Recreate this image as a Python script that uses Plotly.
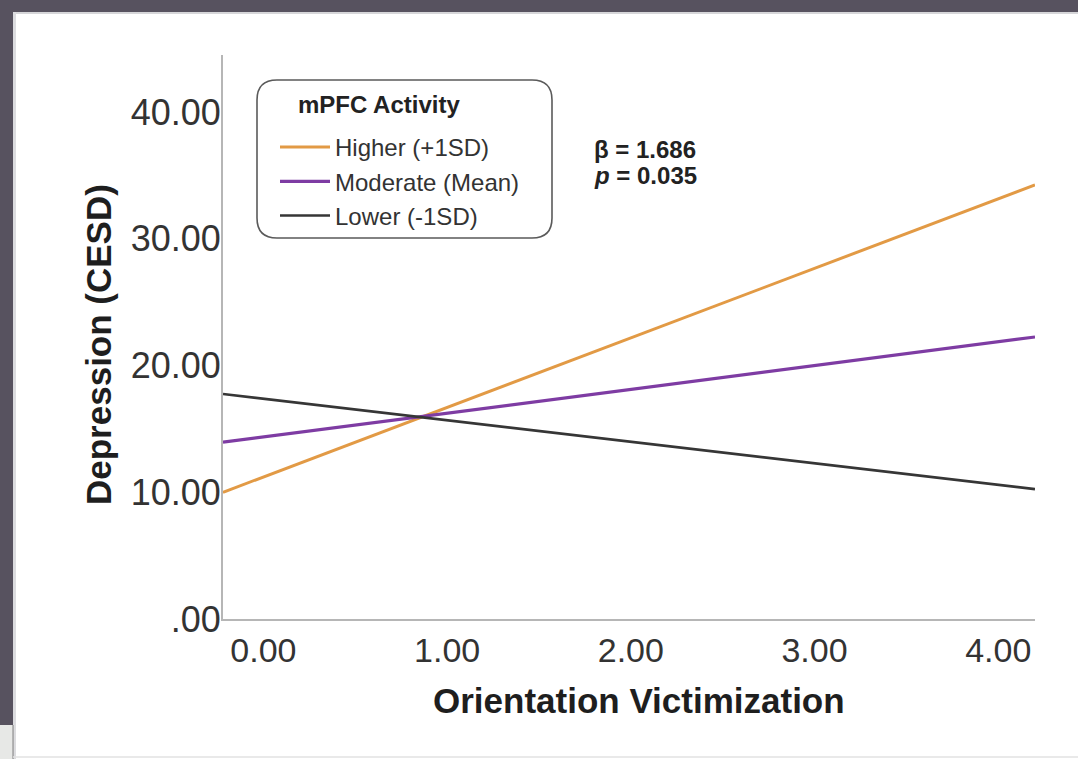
import plotly.graph_objects as go

# Simple-slopes data: depression predicted at the two ends of the victimization range
victimization = [-0.22, 4.2]
depression_higher = [10.0, 34.25]
depression_moderate = [13.95, 22.25]
depression_lower = [17.75, 10.25]
series_names = ["Higher (+1SD)", "Moderate (Mean)", "Lower (-1SD)"]
series_colors = ["#E29A45", "#7E3CA3", "#363636"]

x_ticks = [0, 1, 2, 3, 4]
x_tick_labels = ["0.00", "1.00", "2.00", "3.00", "4.00"]
y_ticks = [0, 10, 20, 30, 40]
y_tick_labels = [".00", "10.00", "20.00", "30.00", "40.00"]

legend_title = "<b>mPFC Activity</b>"
beta_text = "<b>β = 1.686</b>"
p_text = "<b><i>p</i> = 0.035</b>"

W, H = 1078, 759
L, R, T, B = 223, 43, 55, 140
PW, PH = W - L - R, H - T - B
FONT = "Liberation Sans, Arial, Helvetica, sans-serif"


def px(x):
    return (x - L) / PW


def py(y):
    return (H - B - y) / PH


fig = go.Figure()
for name, ys, color, width in zip(
    series_names,
    [depression_higher, depression_moderate, depression_lower],
    series_colors,
    [3, 3.2, 2.6],
):
    fig.add_trace(
        go.Scatter(
            x=victimization,
            y=ys,
            mode="lines",
            name=name,
            line=dict(color=color, width=width),
        )
    )


def rounded_rect(x0, y0, x1, y1, r):
    rx, ry = r / PW, r / PH
    a, b, c, d = px(x0), px(x1), py(y0), py(y1)
    return (
        f"M {a + rx},{c} L {b - rx},{c} Q {b},{c} {b},{c - ry} "
        f"L {b},{d + ry} Q {b},{d} {b - rx},{d} "
        f"L {a + rx},{d} Q {a},{d} {a},{d + ry} "
        f"L {a},{c - ry} Q {a},{c} {a + rx},{c} Z"
    )


shapes = [
    # legend frame
    dict(type="path", xref="paper", yref="paper", path=rounded_rect(257, 80, 552, 238, 20),
         line=dict(color="#5a5a5a", width=1.6), fillcolor="rgba(0,0,0,0)", layer="above"),
    # window chrome around the slide
    dict(type="rect", xref="paper", yref="paper", x0=px(0), x1=px(W), y0=py(0), y1=py(12),
         fillcolor="#57525f", line=dict(width=0), layer="above"),
    dict(type="rect", xref="paper", yref="paper", x0=px(0), x1=px(W), y0=py(12), y1=py(14),
         fillcolor="#d6d6d9", line=dict(width=0), layer="above"),
    dict(type="rect", xref="paper", yref="paper", x0=px(0), x1=px(13), y0=py(0), y1=py(725),
         fillcolor="#57525f", line=dict(width=0), layer="above"),
    dict(type="rect", xref="paper", yref="paper", x0=px(13), x1=px(16), y0=py(12), y1=py(759),
         fillcolor="#dcdcdf", line=dict(width=0), layer="above"),
    dict(type="rect", xref="paper", yref="paper", x0=px(0), x1=px(12), y0=py(725), y1=py(759),
         fillcolor="#e7e8e6", line=dict(width=0), layer="above"),
    dict(type="line", xref="paper", yref="paper", x0=px(13), x1=px(13), y0=py(725), y1=py(759),
         line=dict(color="#9b9b9b", width=1.5), layer="above"),
    dict(type="line", xref="paper", yref="paper", x0=px(13), x1=px(W), y0=py(757), y1=py(757),
         line=dict(color="#e2e2e2", width=1.5), layer="above"),
]

annotations = [
    dict(text=legend_title, xref="paper", yref="paper", x=px(296), y=py(105), xanchor="left",
         yanchor="middle", showarrow=False, font=dict(family=FONT, size=24, color="#222")),
    dict(text=beta_text, xref="paper", yref="paper", x=px(592), y=py(149), xanchor="left",
         yanchor="middle", showarrow=False, font=dict(family=FONT, size=24, color="#222")),
    dict(text=p_text, xref="paper", yref="paper", x=px(592), y=py(176), xanchor="left",
         yanchor="middle", showarrow=False, font=dict(family=FONT, size=24, color="#222")),
    dict(text="<b>Orientation Victimization</b>", xref="paper", yref="paper", x=px(639), y=py(700),
         xanchor="center", yanchor="middle", showarrow=False,
         font=dict(family=FONT, size=35, color="#1e1e1e")),
    dict(text="<b>Depression (CESD)</b>", xref="paper", yref="paper", x=px(98), y=py(345),
         xanchor="center", yanchor="middle", textangle=-90, showarrow=False,
         font=dict(family=FONT, size=35, color="#1e1e1e")),
]

fig.update_layout(
    width=W,
    height=H,
    margin=dict(l=L, r=R, t=T, b=B, pad=0),
    paper_bgcolor="white",
    plot_bgcolor="white",
    font=dict(family=FONT, color="#2a2a2a"),
    showlegend=True,
    legend=dict(
        x=px(275), y=py(125), xanchor="left", yanchor="top",
        bgcolor="rgba(0,0,0,0)", borderwidth=0,
        font=dict(family=FONT, size=24, color="#333"),
        itemwidth=50,
    ),
    shapes=shapes,
    annotations=annotations,
    xaxis=dict(
        range=[victimization[0], victimization[1]],
        tickvals=x_ticks, ticktext=x_tick_labels,
        tickfont=dict(family=FONT, size=34, color="#333"),
        showline=True, linecolor="#b6b6b6", linewidth=2,
        showgrid=False, zeroline=False, ticks="", ticklabelstandoff=0,
    ),
    yaxis=dict(
        range=[0, 44.5],
        tickvals=y_ticks, ticktext=y_tick_labels,
        tickfont=dict(family=FONT, size=36, color="#333"),
        showline=True, linecolor="#b6b6b6", linewidth=2,
        showgrid=False, zeroline=False, ticks="", ticklabelstandoff=-7,
    ),
)

fig.write_html("out.html")
